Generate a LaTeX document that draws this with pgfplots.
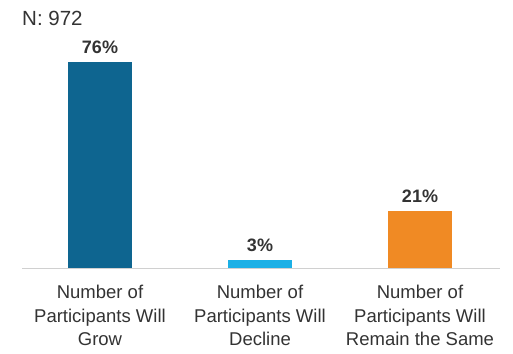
\documentclass[border=0pt]{standalone}
\usepackage{pgfplots}
\pgfplotsset{compat=1.18}
\usepackage{fontspec}
\setmainfont{Liberation Sans}
\definecolor{c1}{HTML}{0E6590}
\definecolor{c2}{HTML}{1CB0E6}
\definecolor{c3}{HTML}{F08A24}
\definecolor{txt}{HTML}{333333}
\definecolor{axl}{HTML}{D0D0D0}
\begin{document}
\begin{tikzpicture}
\useasboundingbox (0,0) rectangle (513pt,353pt);
\node[anchor=west, text=txt, font=\fontsize{20.5}{22}\selectfont, inner sep=0pt] at (22pt,335pt) {N: 972};
\begin{axis}[
  at={(22pt,85pt)}, anchor=south west,
  scale only axis, width=478pt, height=217pt,
  xmin=-0.4875, xmax=2.5, ymin=0, ymax=80,
  axis y line=none, axis x line*=bottom,
  x axis line style={draw=axl, line width=1pt, -},
  xtick={0,1,2},
  xticklabels={{Number of\\Participants Will\\Grow},{Number of\\Participants Will\\Decline},{Number of\\Participants Will\\Remain the Same}},
  xticklabel style={align=center, text=txt, font=\fontsize{18.5}{23.5}\selectfont, yshift=-14pt},
  major tick length=0pt,
  ybar, bar width=64pt,
  /pgf/number format/assume math mode=true,
  nodes near coords={\textbf{\pgfmathprintnumber{\pgfplotspointmeta}\%}},
  nodes near coords style={text=txt, font=\bfseries\fontsize{18}{20}\selectfont, yshift=5pt},
  every axis plot/.append style={bar shift=0pt, draw=none},
  clip=false,
]
\addplot[fill=c1] coordinates {(0,76)};
\addplot[fill=c2] coordinates {(1,3)};
\addplot[fill=c3] coordinates {(2,21)};
\end{axis}
\end{tikzpicture}
\end{document}
